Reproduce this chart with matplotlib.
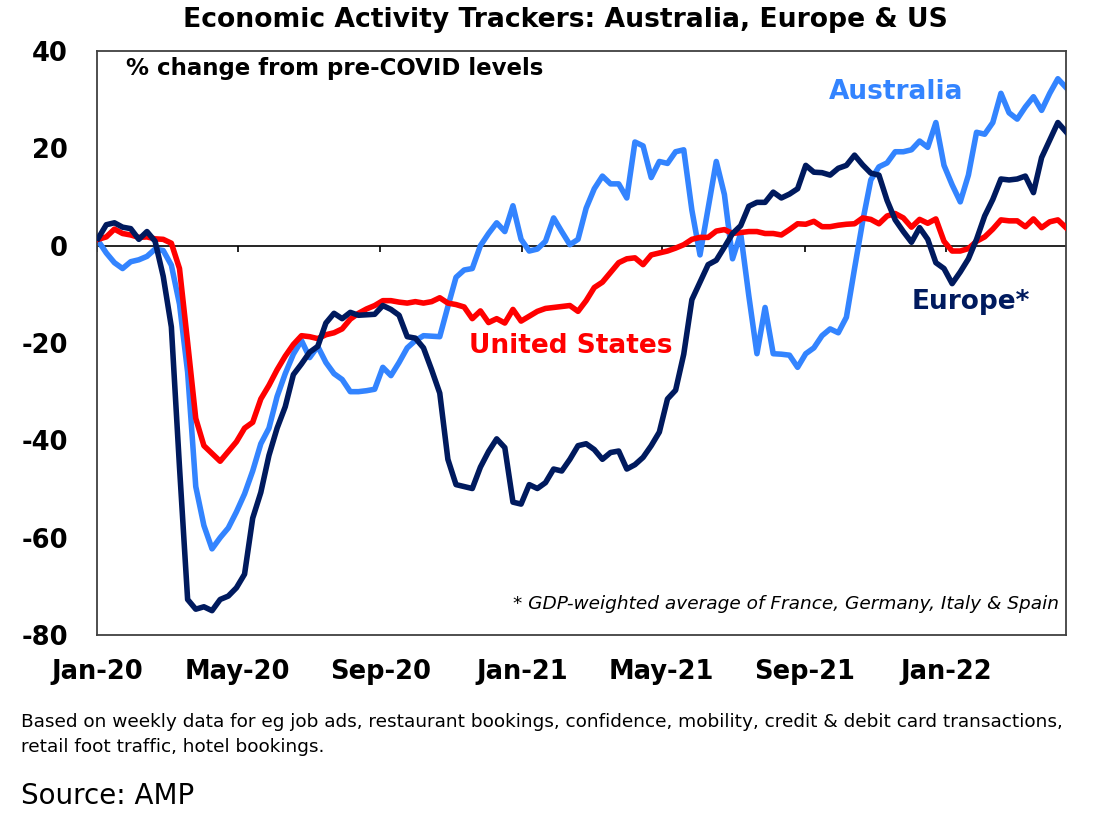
import matplotlib
matplotlib.use("Agg")
import matplotlib.pyplot as plt
import pandas as pd

# weekly readings, % change from pre-COVID levels
dates = pd.date_range("2020-01-02", periods=120, freq="7D")

australia = [
    1.0, -1.5, -3.5, -4.7, -3.3, -2.9, -2.2, -0.7, -1.0, -4.0,
    -12.0, -26.0, -49.5, -57.5, -62.3, -60.0, -58.0, -54.7, -51.0, -46.3,
    -40.7, -37.5, -31.0, -26.3, -22.3, -19.5, -23.0, -20.7, -24.0, -26.3,
    -27.5, -30.0, -30.0, -29.8, -29.5, -25.0, -26.7, -24.0, -21.0, -19.5,
    -18.5, -18.6, -18.7, -12.5, -6.5, -5.0, -4.7, 0.0, 2.5, 4.7,
    2.9, 8.2, 1.3, -1.1, -0.7, 0.9, 5.7, 2.9, 0.2, 1.3,
    7.7, 11.7, 14.3, 12.7, 12.7, 9.8, 21.3, 20.5, 14.0, 17.3,
    16.9, 19.3, 19.7, 7.3, -1.9, 7.7, 17.3, 10.5, -2.7, 2.5,
    -10.3, -22.2, -12.7, -22.2, -22.3, -22.5, -25.0, -22.2, -21.0, -18.5,
    -17.1, -17.9, -14.7, -4.7, 5.0, 13.5, 16.2, 17.0, 19.3, 19.3,
    19.7, 21.5, 20.2, 25.3, 16.5, 12.5, 9.0, 14.5, 23.3, 22.9,
    25.3, 31.3, 27.3, 26.0, 28.5, 30.6, 27.8, 31.3, 34.3, 32.5,
]

europe = [
    1.5, 4.3, 4.7, 3.8, 3.5, 1.3, 2.9, 0.9, -6.3, -16.7,
    -45.5, -72.7, -74.7, -74.2, -75.0, -72.7, -72.0, -70.3, -67.5, -56.0,
    -50.7, -43.1, -37.5, -33.1, -26.5, -24.3, -21.9, -20.7, -15.9, -13.9,
    -15.0, -13.7, -14.3, -14.2, -14.1, -12.3, -13.1, -14.3, -18.7, -19.0,
    -21.0, -25.5, -30.3, -43.9, -49.1, -49.5, -49.9, -45.5, -42.3, -39.7,
    -41.5, -52.7, -53.1, -49.1, -49.9, -48.7, -45.9, -46.3, -43.9, -41.1,
    -40.7, -41.9, -43.9, -42.5, -42.2, -45.9, -45.0, -43.5, -41.1, -38.3,
    -31.5, -29.7, -22.3, -11.1, -7.5, -3.9, -3.0, -0.3, 2.5, 4.1,
    8.1, 8.9, 8.9, 11.0, 9.8, 10.6, 11.7, 16.5, 15.1, 15.0,
    14.5, 15.9, 16.5, 18.6, 16.6, 14.9, 14.5, 9.3, 5.3, 2.9,
    0.7, 3.7, 1.3, -3.5, -4.7, -7.8, -5.4, -2.7, 1.3, 6.1,
    9.5, 13.7, 13.5, 13.7, 14.3, 10.9, 18.1, 21.7, 25.3, 23.4,
]

united_states = [
    1.3, 1.8, 3.4, 2.5, 2.2, 1.7, 1.8, 1.4, 1.3, 0.5,
    -4.7, -19.9, -35.5, -41.1, -42.7, -44.3, -42.3, -40.3, -37.5, -36.3,
    -31.5, -28.7, -25.5, -22.7, -20.3, -18.5, -18.7, -19.1, -18.3, -17.9,
    -17.1, -15.1, -13.9, -13.0, -12.3, -11.3, -11.3, -11.6, -11.8, -11.5,
    -11.8, -11.5, -10.7, -11.8, -12.1, -12.6, -15.0, -13.4, -15.8, -15.0,
    -15.9, -13.1, -15.5, -14.5, -13.5, -12.9, -12.7, -12.5, -12.3, -13.5,
    -11.3, -8.6, -7.5, -5.5, -3.5, -2.7, -2.5, -3.9, -1.9, -1.5,
    -1.1, -0.5, 0.2, 1.3, 1.7, 1.7, 3.0, 3.3, 2.5, 2.7,
    2.9, 2.9, 2.5, 2.5, 2.2, 3.3, 4.5, 4.4, 5.0, 3.9,
    3.9, 4.2, 4.4, 4.5, 5.7, 5.4, 4.5, 6.1, 6.6, 5.7,
    3.8, 5.4, 4.6, 5.5, 0.9, -1.1, -1.1, -0.6, 0.9, 1.8,
    3.4, 5.3, 5.1, 5.1, 3.9, 5.5, 3.7, 4.9, 5.3, 3.7,
]

tick_dates = pd.date_range("2020-01-01", "2022-01-01", freq="4MS")
tick_labels = [d.strftime("%b-%y") for d in tick_dates]
y_ticks = [-80, -60, -40, -20, 0, 20, 40]

W, H = 1104, 825


def px(x, y):
    # pixel position (from top-left) to figure fraction
    return x / W, 1 - y / H


fig = plt.figure(figsize=(W / 100, H / 100), dpi=100)
ax = fig.add_axes([97 / W, 1 - 635 / H, (1066 - 97) / W, (635 - 51) / H])

ax.axhline(0, color="black", lw=1.2, zorder=1)
ax.vlines(tick_dates, -1.3, 0, color="black", lw=1.2, zorder=1)

ax.plot(dates, australia, color="#3384FF", lw=4, zorder=2)
ax.plot(dates, united_states, color="#FF0000", lw=4, zorder=3)
ax.plot(dates, europe, color="#001A5E", lw=4, zorder=4)

ax.set_xlim(pd.Timestamp("2020-01-01"), dates[-1])
ax.set_ylim(-80, 40)
ax.set_xticks(tick_dates)
ax.set_xticklabels(tick_labels, fontsize=18.5, fontweight="bold")
ax.set_yticks(y_ticks)
ax.set_yticklabels([str(v) for v in y_ticks], fontsize=18.5, fontweight="bold")
ax.tick_params(axis="x", length=0, pad=17)
ax.tick_params(axis="y", length=0, pad=21)
for sp in ax.spines.values():
    sp.set_color("#404040")
    sp.set_linewidth(1.3)

fig.text(*px(565, 20), "Economic Activity Trackers: Australia, Europe & US",
         ha="center", va="center", fontsize=19.2, fontweight="bold")
fig.text(*px(126, 68), "% change from pre-COVID levels",
         ha="left", va="center", fontsize=16.5, fontweight="bold")
fig.text(*px(829, 92), "Australia", ha="left", va="center",
         fontsize=19, fontweight="bold", color="#3384FF")
fig.text(*px(469, 346), "United States", ha="left", va="center",
         fontsize=19, fontweight="bold", color="#FF0000")
fig.text(*px(912, 302), "Europe*", ha="left", va="center",
         fontsize=19, fontweight="bold", color="#001A5E")
fig.text(*px(1059, 604), "* GDP-weighted average of France, Germany, Italy & Spain",
         ha="right", va="center", fontsize=13.3, style="italic")

fig.text(*px(21, 722), "Based on weekly data for eg job ads, restaurant bookings, "
         "confidence, mobility, credit & debit card transactions,",
         ha="left", va="center", fontsize=13.3)
fig.text(*px(21, 747), "retail foot traffic, hotel bookings.",
         ha="left", va="center", fontsize=13.3)
fig.text(*px(21, 796), "Source: AMP", ha="left", va="center", fontsize=20)

fig.savefig("out.png", dpi=100)
